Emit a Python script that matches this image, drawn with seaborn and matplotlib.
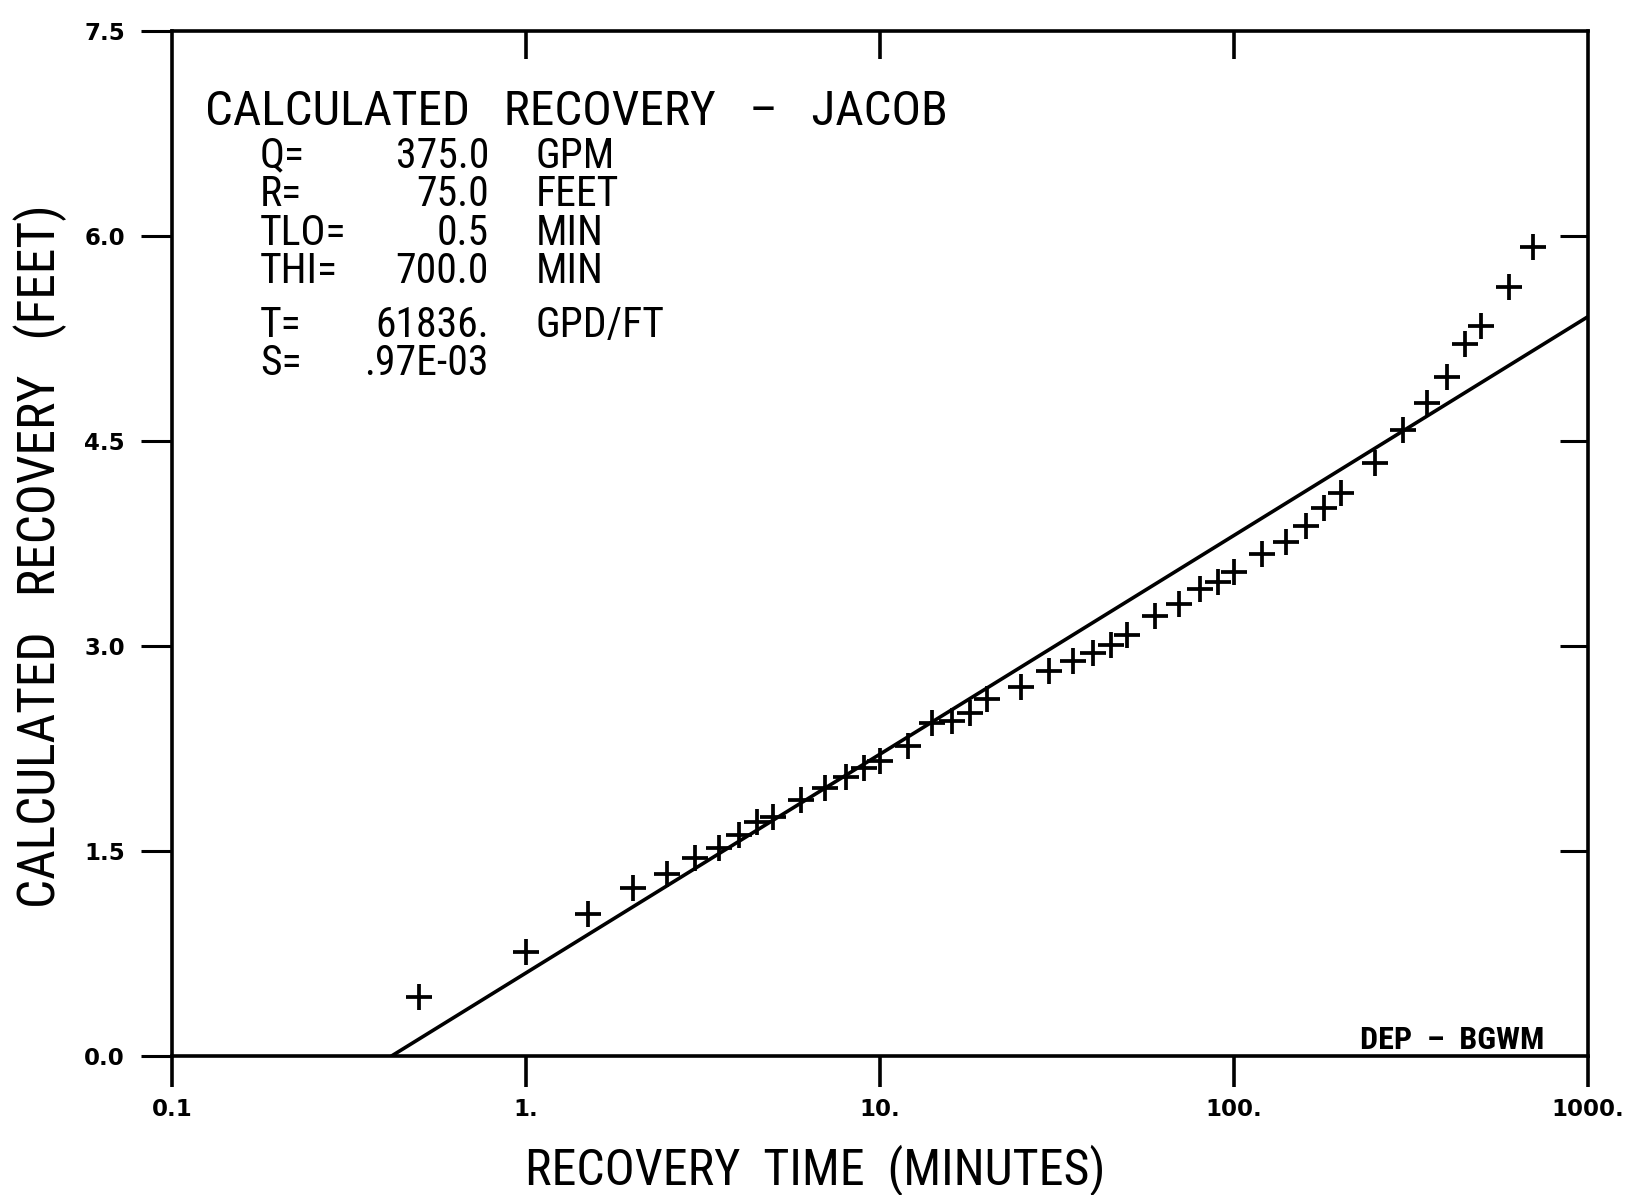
import numpy as np
import pandas as pd
import matplotlib
matplotlib.use("Agg")
import matplotlib.pyplot as plt
from matplotlib import font_manager
from matplotlib.ticker import NullLocator, FixedLocator
import seaborn as sns

# ---- data ----
time_min = [0.5, 1.0, 1.5, 2.0, 2.5, 3.0, 3.5, 4.0, 4.5, 5.0,
            6.0, 7.0, 8.0, 9.0, 10.0, 12.0, 14.0, 16.0, 18.0, 20.0,
            25.0, 30.0, 35.0, 40.0, 45.0, 50.0, 60.0, 70.0, 80.0, 90.0,
            100.0, 120.0, 140.0, 160.0, 180.0, 200.0, 250.0, 300.0, 350.0, 400.0,
            450.0, 500.0, 600.0, 700.0]
recovery_ft = [0.43, 0.76, 1.04, 1.23, 1.33, 1.45, 1.52, 1.62, 1.71, 1.75,
               1.87, 1.96, 2.04, 2.11, 2.16, 2.27, 2.44, 2.45, 2.51, 2.61,
               2.70, 2.82, 2.89, 2.95, 3.01, 3.08, 3.22, 3.31, 3.42, 3.47,
               3.54, 3.67, 3.76, 3.88, 4.01, 4.12, 4.34, 4.58, 4.78, 4.97,
               5.21, 5.34, 5.63, 5.92]
fit_time = [0.417, 1000.0]
fit_recovery = [0.0, 5.41]

x_ticks = [0.1, 1.0, 10.0, 100.0, 1000.0]
x_tick_labels = ["0.1", "1.", "10.", "100.", "1000."]
y_ticks = [0.0, 1.5, 3.0, 4.5, 6.0, 7.5]
y_tick_labels = ["0.0", "1.5", "3.0", "4.5", "6.0", "7.5"]

title_text = "CALCULATED   RECOVERY   \u2013   JACOB"
param_names_a = ["Q=", "R=", "TLO=", "THI="]
param_values_a = ["375.0", "75.0", "0.5", "700.0"]
param_units_a = ["GPM", "FEET", "MIN", "MIN"]
param_names_b = ["T=", "S="]
param_values_b = ["61836.", ".97E-03"]
param_units_b = ["GPD/FT", ""]
x_label = "RECOVERY  TIME  (MINUTES)"
y_label = "CALCULATED   RECOVERY   (FEET)"
stamp_text = "DEP  \u2013  BGWM"

# ---- style ----
sns.set_style("white")
names = {f.name for f in font_manager.fontManager.ttflist}
if "Roboto Condensed" in names:
    main_font = ["Roboto Condensed", "DejaVu Sans"]
elif "Roboto" in names:
    main_font = ["Roboto", "DejaVu Sans"]
else:
    main_font = ["Liberation Sans", "DejaVu Sans"]
plt.rcParams["font.family"] = main_font
for k in ["text.color", "axes.labelcolor", "xtick.color", "ytick.color",
          "axes.edgecolor"]:
    plt.rcParams[k] = "black"

W, H = 1631, 1195
fig = plt.figure(figsize=(W / 100, H / 100), dpi=100)
ax_left, ax_right, ax_top, ax_bottom = 172, 1588, 31, 1056
ax = fig.add_axes([ax_left / W, 1 - ax_bottom / H,
                   (ax_right - ax_left) / W, (ax_bottom - ax_top) / H])

df = pd.DataFrame({"t": time_min, "s": recovery_ft})
fit_df = pd.DataFrame({"t": fit_time, "s": fit_recovery})

sns.lineplot(data=fit_df, x="t", y="s", ax=ax, color="black", linewidth=2.6)
sns.scatterplot(data=df, x="t", y="s", ax=ax, marker="+", s=330,
                color="black", linewidth=2.7, zorder=3)

ax.set_xscale("log")
ax.set_xlim(0.1, 1000)
ax.set_ylim(0, 7.5)

for sp in ax.spines.values():
    sp.set_visible(True)
    sp.set_linewidth(2.6)
    sp.set_color("black")

ax.xaxis.set_major_locator(FixedLocator(x_ticks))
ax.xaxis.set_minor_locator(NullLocator())
ax.set_xticks(x_ticks)
ax.set_xticklabels(x_tick_labels, fontsize=16.5, fontweight="bold",
                   family="DejaVu Sans")
ax.set_yticks(y_ticks)
ax.set_yticklabels(y_tick_labels, fontsize=16.5, fontweight="bold",
                   family="DejaVu Sans")
ax.tick_params(axis="x", direction="out", length=22, width=2.6, pad=8,
               bottom=True, top=False, colors="black")
ax.tick_params(axis="y", direction="out", length=22, width=2.2, pad=12,
               left=True, right=False, colors="black")

sec_x = ax.secondary_xaxis("top")
sec_x.set_xticks(x_ticks[1:-1])
sec_x.xaxis.set_minor_locator(NullLocator())
sec_x.tick_params(direction="in", length=20, width=2.6, labeltop=False)
sec_x.spines["top"].set_visible(False)

sec_y = ax.secondary_yaxis("right")
sec_y.set_yticks(y_ticks[1:-1])
sec_y.tick_params(direction="in", length=20, width=2.2, labelright=False)
sec_y.spines["right"].set_visible(False)

ax.set_xlabel(x_label, fontsize=36, va="top")
ax.xaxis.set_label_coords(0.454, -0.086)
ax.set_ylabel(y_label, fontsize=37)
ax.yaxis.set_label_coords(-0.074, 0.488)

def fx(px):
    return px / W

def fy(py):
    return 1 - py / H

fig.text(fx(205), fy(125), title_text, fontsize=35.5, va="baseline", ha="left")

ls = 0.92
def block(x, yb_last, lines, ha):
    fig.text(fx(x), fy(yb_last), "\n".join(lines), fontsize=30, va="baseline",
             ha=ha, multialignment=ha, linespacing=ls)

block(260, 283, param_names_a, "left")
block(489, 283, param_values_a, "right")
block(536, 283, param_units_a, "left")
block(260, 375, param_names_b, "left")
block(489, 375, param_values_b, "right")
block(536, 375, param_units_b, "left")

fig.text(fx(1360), fy(1049), stamp_text, fontsize=23, fontweight="bold",
         va="baseline", ha="left")

fig.savefig("out.png", dpi=100, facecolor="white")
